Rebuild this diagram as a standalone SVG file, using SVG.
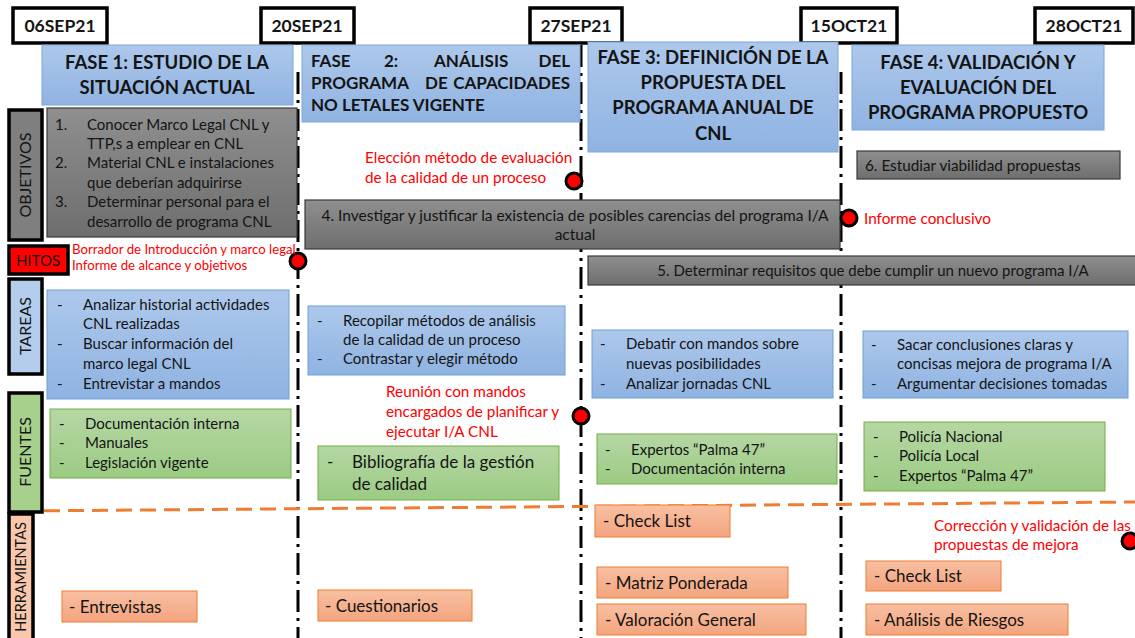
<svg xmlns="http://www.w3.org/2000/svg" width="1135" height="638" viewBox="0 0 1135 638">
<defs>
<linearGradient id="gBlue" x1="0" y1="0" x2="0" y2="1"><stop offset="0" stop-color="#adc8eb"/><stop offset="1" stop-color="#8fb3e2"/></linearGradient>
<linearGradient id="gGray" x1="0" y1="0" x2="0" y2="1"><stop offset="0" stop-color="#8f8f8f"/><stop offset="1" stop-color="#6e6e6e"/></linearGradient>
<linearGradient id="gGreen" x1="0" y1="0" x2="0" y2="1"><stop offset="0" stop-color="#b6d7a4"/><stop offset="1" stop-color="#9bcb83"/></linearGradient>
<linearGradient id="gPeach" x1="0" y1="0" x2="0" y2="1"><stop offset="0" stop-color="#f7c0a2"/><stop offset="1" stop-color="#f4a47f"/></linearGradient>
</defs>
<style>
text{font-family:Lato,"Liberation Sans",sans-serif;fill:#141414}
.date{fill:#fff;stroke:#000;stroke-width:3.5}
.dt{font-size:17.5px;font-weight:bold;text-anchor:middle}
.fase{fill:url(#gBlue);stroke:#7ea6d8;stroke-width:1}
.ft{font-size:18.5px;font-weight:bold;text-anchor:middle}
.f2{font-size:17px;font-weight:bold}
.gray{fill:url(#gGray);stroke:#3a3a3a;stroke-width:1.2}
.blue{fill:url(#gBlue);stroke:#6f9fd8;stroke-width:1}
.green{fill:url(#gGreen);stroke:#70ad47;stroke-width:1}
.peach{fill:url(#gPeach);stroke:#ed7d31;stroke-width:1}
.t{font-size:15px}
.tc{font-size:15.5px;text-anchor:middle}
.red{font-size:15.3px;fill:#ff0000}
.h{font-size:17px}
.lab{stroke:#000;stroke-width:3.5}
.lt{font-size:16px;text-anchor:middle}
.vline{stroke:#000;stroke-width:3;stroke-dasharray:22 6 3 6;fill:none}
.ms{fill:#ff0000;stroke:#000;stroke-width:3}
</style>
<rect width="1135" height="638" fill="#fff"/>
<g id="connectors">
<line class="vline" x1="298" y1="72" x2="298" y2="638"/>
<line class="vline" x1="581" y1="45" x2="581" y2="638"/>
<line class="vline" x1="841" y1="72" x2="841" y2="638"/>
<line x1="20" y1="511" x2="1135" y2="502" stroke="#ed7d31" stroke-width="3" stroke-dasharray="16 8"/>
</g>
<g id="dates">
<g id="d1"><rect class="date" x="13" y="8" width="94" height="35"/><text class="dt" x="60" y="32">06SEP21</text></g>
<g id="d2"><rect class="date" x="261" y="8" width="93" height="35"/><text class="dt" x="307" y="32">20SEP21</text></g>
<g id="d3"><rect class="date" x="530" y="8" width="92" height="35"/><text class="dt" x="576" y="32">27SEP21</text></g>
<g id="d4"><rect class="date" x="801" y="8" width="96" height="35"/><text class="dt" x="849" y="32">15OCT21</text></g>
<g id="d5"><rect class="date" x="1035" y="8" width="98" height="35"/><text class="dt" x="1084" y="32">28OCT21</text></g>
</g>
<g id="fase1"><rect class="fase" x="42" y="45" width="251" height="60"/><text class="ft" x="167" y="69">FASE 1: ESTUDIO DE LA</text><text class="ft" x="167" y="94">SITUACIÓN ACTUAL</text></g>
<g id="fase2"><rect class="fase" x="302" y="45" width="278" height="77"/>
<text class="f2" x="311" y="67">FASE</text><text class="f2" x="384" y="67">2:</text><text class="f2" x="434" y="67">ANÁLISIS</text><text class="f2" x="570" y="67" text-anchor="end">DEL</text>
<text class="f2" x="311" y="89">PROGRAMA</text><text class="f2" x="425" y="89">DE</text><text class="f2" x="570" y="89" text-anchor="end">CAPACIDADES</text>
<text class="f2" x="311" y="111">NO LETALES VIGENTE</text></g>
<g id="fase3"><rect class="fase" x="588" y="42" width="250" height="110"/><text class="ft" x="713" y="64">FASE 3: DEFINICIÓN DE LA</text><text class="ft" x="713" y="89">PROPUESTA DEL</text><text class="ft" x="713" y="114">PROGRAMA ANUAL DE</text><text class="ft" x="713" y="140">CNL</text></g>
<g id="fase4"><rect class="fase" x="852" y="45" width="252" height="85"/><text class="ft" x="978" y="69">FASE 4: VALIDACIÓN Y</text><text class="ft" x="978" y="94">EVALUACIÓN DEL</text><text class="ft" x="978" y="119">PROGRAMA PROPUESTO</text></g>
<g id="lab-objetivos"><rect class="lab" x="9" y="110" width="33" height="130" fill="#7f7f7f"/><text class="lt" transform="translate(31,175) rotate(-90)">OBJETIVOS</text></g>
<g id="lab-hitos"><rect class="lab" x="9" y="246" width="59" height="28" fill="#ff0000"/><text class="t" x="38" y="266" text-anchor="middle">HITOS</text></g>
<g id="lab-tareas"><rect class="lab" x="9" y="279" width="33" height="95" fill="#b4cdec"/><text class="lt" transform="translate(31,326) rotate(-90)">TAREAS</text></g>
<g id="lab-fuentes"><rect class="lab" x="9" y="393" width="33" height="119" fill="#a6d08c"/><text class="lt" transform="translate(31,452) rotate(-90)">FUENTES</text></g>
<g id="lab-herramientas"><rect class="lab" x="9" y="514" width="24" height="126" fill="#f8c7ac"/><text class="lt" style="font-size:14.5px" transform="translate(26,577) rotate(-90)">HERRAMIENTAS</text></g>
<g id="obj1"><rect class="gray" x="47" y="108" width="250" height="129"/>
<text class="t" x="55" y="130">1.</text><text class="t" x="87" y="130">Conocer Marco Legal CNL y</text>
<text class="t" x="87" y="149">TTP,s a emplear en CNL</text>
<text class="t" x="55" y="168">2.</text><text class="t" x="87" y="168">Material CNL e instalaciones</text>
<text class="t" x="87" y="188">que deberían adquirirse</text>
<text class="t" x="55" y="207">3.</text><text class="t" x="87" y="207">Determinar personal para el</text>
<text class="t" x="87" y="227">desarrollo de  programa CNL</text></g>
<g id="obj4"><rect class="gray" x="305" y="200" width="535" height="49"/><text class="tc" x="575" y="221">4. Investigar y justificar la existencia de posibles carencias del programa I/A</text><text class="tc" x="575" y="240">actual</text></g>
<g id="obj5"><rect class="gray" x="588" y="256" width="550" height="29"/><text class="tc" x="873" y="276" style="font-size:15px">5. Determinar requisitos que debe cumplir un nuevo programa I/A</text></g>
<g id="obj6"><rect class="gray" x="857" y="151" width="263" height="28"/><text class="t" x="865" y="171" style="font-size:15.3px">6. Estudiar viabilidad propuestas</text></g>
<g id="hito1"><circle class="ms" cx="298" cy="261" r="8"/><text class="red" x="72" y="254" style="font-size:13.2px">Borrador de Introducción y marco legal</text><text class="red" x="72" y="270" style="font-size:13.2px">Informe de alcance y objetivos</text></g>
<g id="hito2"><circle class="ms" cx="574" cy="181" r="8"/><text class="red" x="365" y="163">Elección método de evaluación</text><text class="red" x="365" y="183">de la calidad de un proceso</text></g>
<g id="hito3"><circle class="ms" cx="849" cy="218" r="8"/><text class="red" x="864" y="224">Informe conclusivo</text></g>
<g id="hito4"><circle class="ms" cx="581" cy="416" r="8"/><text class="red" x="386" y="397">Reunión con mandos</text><text class="red" x="386" y="417">encargados de planificar y</text><text class="red" x="386" y="437">ejecutar I/A CNL</text></g>
<g id="hito5"><circle class="ms" cx="1130" cy="541" r="8"/><text class="red" x="934" y="531">Corrección y validación de las</text><text class="red" x="934" y="550">propuestas de mejora</text></g>
<g id="tarea1"><rect class="blue" x="47" y="290" width="242" height="109"/>
<text class="t" x="57" y="310">-</text><text class="t" x="83" y="310">Analizar historial actividades</text>
<text class="t" x="83" y="329">CNL realizadas</text>
<text class="t" x="57" y="349">-</text><text class="t" x="83" y="349">Buscar información del</text>
<text class="t" x="83" y="369">marco legal CNL</text>
<text class="t" x="57" y="389">-</text><text class="t" x="83" y="389">Entrevistar a mandos</text></g>
<g id="tarea2"><rect class="blue" x="308" y="306" width="257" height="69"/>
<text class="t" x="317" y="326">-</text><text class="t" x="343" y="326">Recopilar métodos de análisis</text>
<text class="t" x="343" y="345">de la calidad de un proceso</text>
<text class="t" x="317" y="364">-</text><text class="t" x="343" y="364">Contrastar y elegir método</text></g>
<g id="tarea3"><rect class="blue" x="592" y="330" width="241" height="68"/>
<text class="t" x="600" y="349">-</text><text class="t" x="626" y="349">Debatir con mandos sobre</text>
<text class="t" x="626" y="369">nuevas posibilidades</text>
<text class="t" x="600" y="389">-</text><text class="t" x="626" y="389">Analizar jornadas CNL</text></g>
<g id="tarea4"><rect class="blue" x="863" y="331" width="265" height="67"/>
<text class="t" x="871" y="350">-</text><text class="t" x="897" y="350">Sacar conclusiones claras y</text>
<text class="t" x="897" y="369">concisas mejora de programa I/A</text>
<text class="t" x="871" y="389">-</text><text class="t" x="897" y="389">Argumentar decisiones tomadas</text></g>
<g id="fuente1"><rect class="green" x="50" y="409" width="241" height="69"/>
<text class="t" x="59" y="429">-</text><text class="t" x="85" y="429">Documentación interna</text>
<text class="t" x="59" y="448">-</text><text class="t" x="85" y="448">Manuales</text>
<text class="t" x="59" y="468">-</text><text class="t" x="85" y="468">Legislación vigente</text></g>
<g id="fuente2"><rect class="green" x="318" y="446" width="241" height="54"/>
<text class="h" x="327" y="468">-</text><text class="h" x="352" y="468">Bibliografía de la gestión</text>
<text class="h" x="352" y="490">de calidad</text></g>
<g id="fuente3"><rect class="green" x="597" y="434" width="240" height="50"/>
<text class="t" x="605" y="455">-</text><text class="t" x="631" y="455">Expertos “Palma 47”</text>
<text class="t" x="605" y="474">-</text><text class="t" x="631" y="474">Documentación interna</text></g>
<g id="fuente4"><rect class="green" x="864" y="422" width="241" height="69"/>
<text class="t" x="873" y="442">-</text><text class="t" x="899" y="442">Policía Nacional</text>
<text class="t" x="873" y="461">-</text><text class="t" x="899" y="461">Policía Local</text>
<text class="t" x="873" y="481">-</text><text class="t" x="899" y="481">Expertos “Palma 47”</text></g>
<g id="herr1"><rect class="peach" x="62" y="591" width="135" height="31"/><text class="h" x="69" y="613">- Entrevistas</text></g>
<g id="herr2"><rect class="peach" x="318" y="590" width="154" height="31"/><text class="h" x="325" y="612">- Cuestionarios</text></g>
<g id="herr3"><rect class="peach" x="595" y="505" width="135" height="32"/><text class="h" x="603" y="527">- Check List</text></g>
<g id="herr4"><rect class="peach" x="597" y="567" width="191" height="31"/><text class="h" x="605" y="589">- Matriz Ponderada</text></g>
<g id="herr5"><rect class="peach" x="597" y="604" width="209" height="31"/><text class="h" x="605" y="626">- Valoración General</text></g>
<g id="herr6"><rect class="peach" x="866" y="561" width="135" height="30"/><text class="h" x="874" y="582">- Check List</text></g>
<g id="herr7"><rect class="peach" x="866" y="604" width="202" height="31"/><text class="h" x="874" y="626">- Análisis de Riesgos</text></g>
</svg>
